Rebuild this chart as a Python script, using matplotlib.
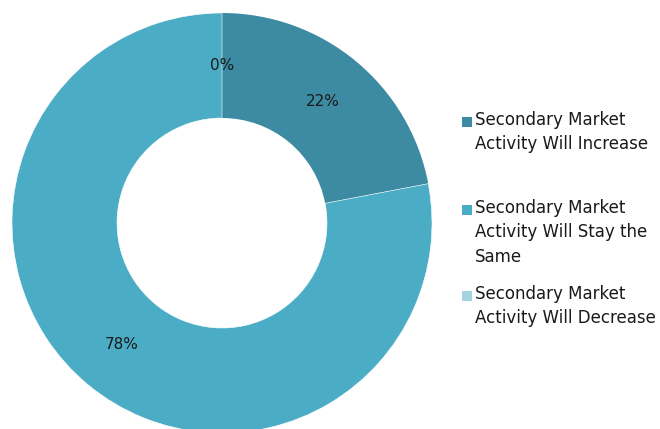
import matplotlib
matplotlib.use("Agg")
import matplotlib.pyplot as plt
from matplotlib.patches import Rectangle

# survey answers, in drawing order (clockwise from 12 o'clock)
labels = [
    "Secondary Market\nActivity Will Increase",
    "Secondary Market\nActivity Will Stay the\nSame",
    "Secondary Market\nActivity Will Decrease",
]
shares = [22, 78, 0]
colors = ["#3d8ba2", "#4aacc5", "#a6d3e0"]

plt.rcParams["font.family"] = ["DejaVu Sans"]

fig = plt.figure(figsize=(6.6, 4.29), dpi=100)
W, H = 660, 429
cx, cy, r = 222, 223, 210  # donut centre and radius in pixels

ax = fig.add_axes([(cx - r) / W, (H - cy - r) / H, 2 * r / W, 2 * r / H])
wedges, texts = ax.pie(
    shares,
    colors=colors,
    startangle=90,
    counterclock=False,
    radius=1.0,
    labels=[f"{v}%" for v in shares],
    labeldistance=0.75,
    wedgeprops=dict(width=0.5, edgecolor="white", linewidth=0.4),
    textprops=dict(fontsize=11, color="#1a1a1a", ha="center", va="center"),
)
# an empty slice has no area, so keep it from drawing a seam at the top
for w, v in zip(wedges, shares):
    if v == 0:
        w.set_visible(False)
wedges[0].set_linewidth(0)
ax.set_xlim(-1, 1)
ax.set_ylim(-1, 1)
ax.set_aspect("auto")
ax.axis("off")

# hand-placed legend on the right
tops = [122, 210, 296]
for lab, col, y in zip(labels, colors, tops):
    fig.patches.append(Rectangle((462 / W, 1 - (y + 5) / H), 10 / W, 10 / H,
                                 transform=fig.transFigure, facecolor=col,
                                 edgecolor="none"))
    fig.text(475 / W, 1 - (y - 11) / H, lab, fontsize=12, color="#1a1a1a",
             va="top", ha="left", linespacing=1.45)

fig.savefig("out.png", dpi=100)
